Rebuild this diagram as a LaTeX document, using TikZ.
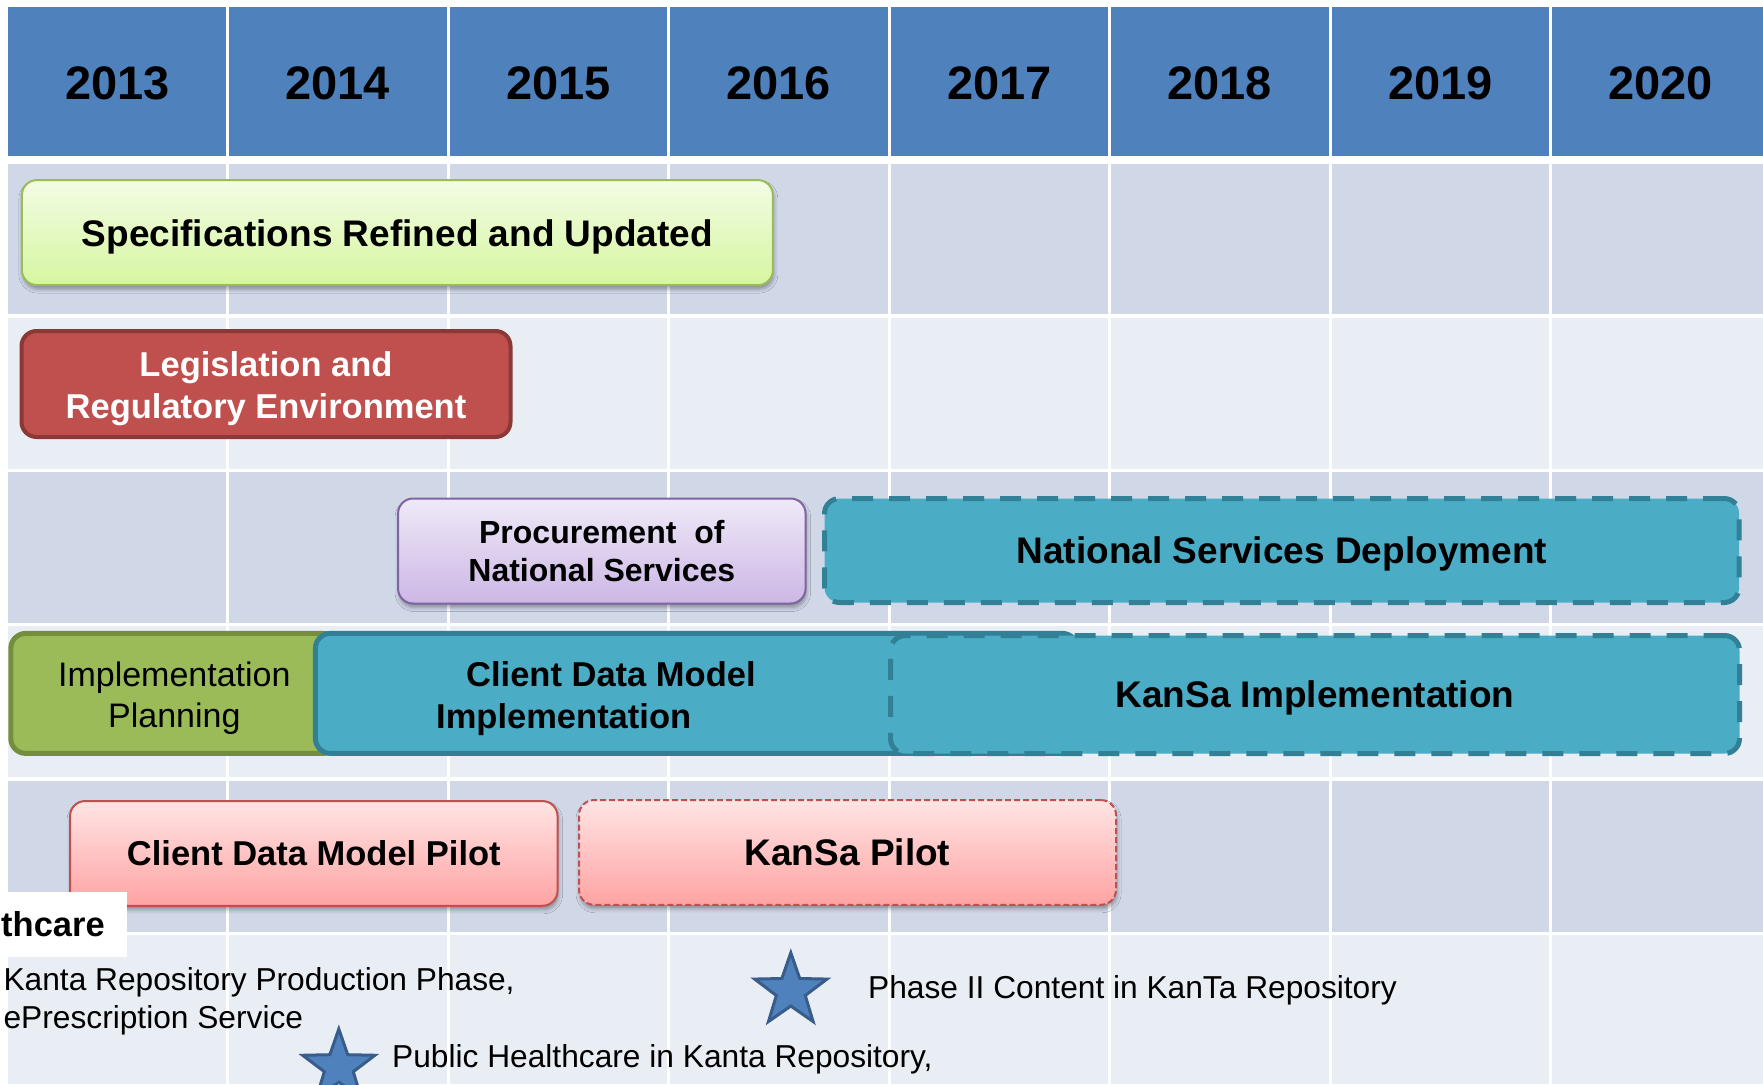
\documentclass[tikz,border=0pt]{standalone}
\usepackage{fontspec}
\setmainfont{Liberation Sans}
\usetikzlibrary{shapes.geometric,shadows,shadows.blur}

\definecolor{headblue}{RGB}{79,129,189}
\definecolor{rowdark}{RGB}{208,216,232}
\definecolor{rowlight}{RGB}{233,237,244}
\definecolor{specedge}{RGB}{155,187,89}
\definecolor{spectop}{RGB}{243,252,228}
\definecolor{specbot}{RGB}{214,246,160}
\definecolor{legisfill}{RGB}{192,80,77}
\definecolor{legisedge}{RGB}{140,56,54}
\definecolor{procedge}{RGB}{128,100,162}
\definecolor{proctop}{RGB}{239,233,248}
\definecolor{procbot}{RGB}{204,183,229}
\definecolor{tealfill}{RGB}{75,172,198}
\definecolor{tealedge}{RGB}{49,128,150}
\definecolor{planfill}{RGB}{155,187,89}
\definecolor{planedge}{RGB}{116,142,62}
\definecolor{pilottop}{RGB}{255,228,228}
\definecolor{pilotbot}{RGB}{255,163,163}
\definecolor{pilotedge}{RGB}{192,80,77}
\definecolor{stardark}{RGB}{56,93,138}

\begin{document}
\begin{tikzpicture}[x=1pt, y=-1pt,
    yearlabel/.style={font=\fontsize{47}{56}\selectfont\bfseries},
    taskbox/.style={rounded corners=15pt, inner sep=0pt, align=center,
        font=\fontsize{37}{44}\selectfont\bfseries},
    softshadow/.style={blur shadow={shadow xshift=1pt, shadow yshift=-4pt,
        shadow blur radius=4pt, shadow opacity=35}},
    deploybox/.style={taskbox, fill=tealfill, draw=tealedge, line width=5pt,
        dash pattern=on 21pt off 16pt, text depth=0pt},
    pilotbox/.style={taskbox, softshadow, top color=pilottop, bottom color=pilotbot,
        draw=pilotedge, line width=2pt, font=\fontsize{34.5}{42}\selectfont\bfseries},
    notetext/.style={font=\fontsize{31.7}{38}\selectfont, inner sep=0pt},
    milestone/.style={star, star points=5, star point ratio=2.5, minimum size=76pt,
        inner sep=0pt, fill=headblue, draw=stardark, line width=3pt}]
    \useasboundingbox (0,0) rectangle (1763,1084);

    % Year header
    \fill[headblue] (8,7) rectangle (1763,156);
    \node[yearlabel] (y2013) at (117.7,83.7) {2013};
    \node[yearlabel] (y2014) at (337.8,83.7) {2014};
    \node[yearlabel] (y2015) at (558.3,83.7) {2015};
    \node[yearlabel] (y2016) at (778.8,83.7) {2016};
    \node[yearlabel] (y2017) at (999.3,83.7) {2017};
    \node[yearlabel] (y2018) at (1219.8,83.7) {2018};
    \node[yearlabel] (y2019) at (1440.3,83.7) {2019};
    \node[yearlabel] (y2020) at (1660.8,83.7) {2020};

    % Row bands
    \fill[rowdark] (8,164) rectangle (1763,314);
    \fill[rowlight] (8,318) rectangle (1763,469);
    \fill[rowdark] (8,472) rectangle (1763,623);
    \fill[rowlight] (8,626) rectangle (1763,777);
    \fill[rowdark] (8,781) rectangle (1763,932);
    \fill[rowlight] (8,935) rectangle (1763,1084);

    % Column separators
    \draw[white, line width=3pt]
        (227.5,0) -- (227.5,1084) (448,0) -- (448,1084)
        (668.5,0) -- (668.5,1084) (889,0) -- (889,1084)
        (1109.5,0) -- (1109.5,1084) (1330,0) -- (1330,1084)
        (1550.5,0) -- (1550.5,1084);

    % Specifications
    \node[taskbox, softshadow, top color=spectop, bottom color=specbot, draw=specedge,
        line width=2pt, text depth=0pt, minimum width=751pt, minimum height=105pt]
        (spec) at (397.4,232.6) {Specifications Refined and Updated};

    % Legislation
    \node[taskbox, fill=legisfill, draw=legisedge, line width=4pt, text=white,
        font=\fontsize{34.5}{42}\selectfont\bfseries, minimum width=489pt, minimum height=106pt]
        (legis) at (266,384) {\rule{0pt}{35pt}Legislation and\\Regulatory Environment};

    % Procurement and deployment
    \node[taskbox, softshadow, top color=proctop, bottom color=procbot, draw=procedge,
        line width=2pt, font=\fontsize{32}{38}\selectfont\bfseries,
        minimum width=407.5pt, minimum height=105pt]
        (procure) at (601.8,551) {Procurement\ \ of\\National Services};
    \node[deploybox, minimum width=914.6pt, minimum height=104pt]
        (deploy) at (1281.8,550.5) {National Services Deployment};

    % Implementation
    \node[taskbox, fill=planfill, draw=planedge, line width=5pt,
        font=\fontsize{34}{40.8}\selectfont, minimum width=327pt, minimum height=120pt]
        (planning) at (174.3,693.4) {\rule{0pt}{34.8pt}Implementation\\Planning};
    \node[taskbox, fill=tealfill, draw=tealedge, line width=5pt,
        minimum width=762pt, minimum height=120pt] (cdmimpl) at (696.4,693.4) {};
    \node[anchor=west, inner sep=0pt, align=left, font=\fontsize{34.5}{42}\selectfont\bfseries]
        (cdmtext) at (436,699) {\hspace*{30pt}Client Data Model\\Implementation};
    \node[deploybox, minimum width=849pt, minimum height=118pt]
        (kansaimpl) at (1315,694.5) {KanSa Implementation};

    % Pilots
    \node[pilotbox, minimum width=487.5pt, minimum height=104.7pt]
        (cdmpilot) at (313.8,853.4) {Client Data Model Pilot};
    \node[pilotbox, dash pattern=on 6pt off 3pt, font=\fontsize{37}{44}\selectfont\bfseries,
        minimum width=537pt, minimum height=104.7pt]
        (kansapilot) at (847.5,852.4) {KanSa Pilot};

    % Milestones
    \node[fill=white, anchor=north west, inner xsep=1pt, inner ysep=0pt, text width=125pt,
        minimum height=64.7pt, align=left, font=\fontsize{34.5}{42}\selectfont\bfseries]
        (hcare) at (0,892) {thcare};
    \node[notetext, anchor=north west, align=left] (note1) at (3.4,967.3)
        {Kanta Repository Production Phase,\\ePrescription Service};
    \node[milestone] (star1) at (790.8,990.8) {};
    \node[notetext, anchor=base west] (note2) at (868,998) {Phase II Content in KanTa Repository};
    \node[milestone] (star2) at (338.8,1067) {};
    \node[notetext, anchor=base west] (note3) at (392,1067) {Public Healthcare in Kanta Repository,};

\end{tikzpicture}
\end{document}
